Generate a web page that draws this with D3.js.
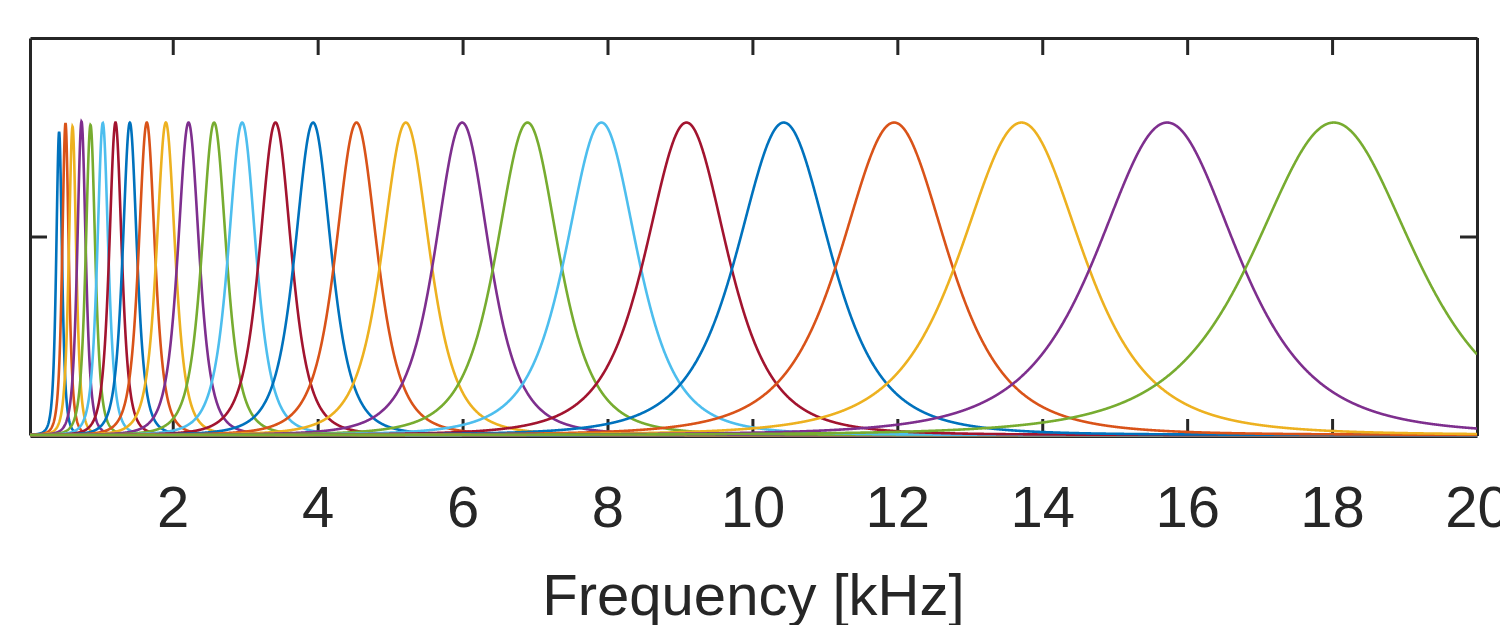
<!DOCTYPE html>
<html>
<head>
<meta charset="utf-8">
<script src="https://cdn.jsdelivr.net/npm/d3@7"></script>
<style>
  body { margin: 0; background: #fff; }
  text { font-family: "Liberation Sans", Arial, sans-serif; fill: #262626; }
</style>
</head>
<body>
<div id="chart"></div>
<script>
// centre frequency of each filter channel (kHz)
var centerKHz = [0.432, 0.520, 0.617, 0.741, 0.865, 1.035, 1.210, 1.408, 1.642, 1.905,
  2.218, 2.571, 2.958, 3.418, 3.937, 4.536, 5.217, 5.994, 6.896, 7.917,
  9.090, 10.433, 11.956, 13.714, 15.723, 18.024]

// bandwidth parameter of each channel (kHz)
var bandKHz = [0.073, 0.082, 0.093, 0.107, 0.120, 0.139, 0.158, 0.180, 0.206, 0.235,
  0.269, 0.308, 0.350, 0.401, 0.458, 0.524, 0.599, 0.684, 0.784, 0.896,
  1.025, 1.173, 1.340, 1.534, 1.755, 2.008]

// peak height of each channel
var peakGain = [0.764, 0.786, 0.777, 0.790, 0.781, 0.786, 0.787, 0.787, 0.787, 0.787,
  0.787, 0.787, 0.787, 0.787, 0.787, 0.787, 0.787, 0.787, 0.787, 0.787,
  0.787, 0.787, 0.787, 0.787, 0.787, 0.787]

var xTicks = [2, 4, 6, 8, 10, 12, 14, 16, 18, 20]
var yTicks = [0.5]
var lineColors = ['#0072BD', '#D95319', '#EDB120', '#7E2F8E', '#77AC30', '#4DBEEE', '#A2142F']

var width = 1500
var height = 625
var plot = {left: 30, right: 1477, top: 38, bottom: 436}

var svg = d3.select('#chart')
  .append('svg')
  .attr('width', width)
  .attr('height', height)

var x = d3.scaleLinear().domain([0.03, 20]).range([plot.left, plot.right])
var y = d3.scaleLinear().domain([0, 1]).range([plot.bottom - 1, plot.top])

svg.append('clipPath')
  .attr('id', 'plot-clip')
  .append('rect')
  .attr('x', plot.left)
  .attr('y', plot.top)
  .attr('width', plot.right - plot.left)
  .attr('height', plot.bottom - plot.top + 2)

// axes box with inward ticks
var axisColor = '#262626'

var bottomAxis = svg.append('g')
  .attr('transform', 'translate(0,' + plot.bottom + ')')
  .call(d3.axisBottom(x).tickValues(xTicks).tickSizeInner(-17).tickSizeOuter(0).tickPadding(50))
bottomAxis.selectAll('text')
  .attr('font-size', 58)
  .attr('fill', axisColor)

svg.append('g')
  .attr('transform', 'translate(0,' + plot.top + ')')
  .call(d3.axisTop(x).tickValues(xTicks).tickSizeInner(-17).tickSizeOuter(0).tickFormat(''))

svg.append('g')
  .attr('transform', 'translate(' + plot.left + ',0)')
  .call(d3.axisLeft(y).tickValues(yTicks).tickSizeInner(-17).tickSizeOuter(0).tickFormat(''))

svg.append('g')
  .attr('transform', 'translate(' + plot.right + ',0)')
  .call(d3.axisRight(y).tickValues(yTicks).tickSizeInner(-17).tickSizeOuter(0).tickFormat(''))

svg.selectAll('.domain, .tick line')
  .attr('stroke', axisColor)
  .attr('stroke-width', 3)

// sample each channel's response across the frequency axis
var freqs = d3.range(0, 20.0001, 0.004)
var channels = centerKHz.map(function (fc, i) {
  return freqs.map(function (f) {
    var u = (f - fc) / bandKHz[i]
    return { f: f, v: peakGain[i] * Math.pow(1 + u * u, -2) }
  })
})

var line = d3.line()
  .x(d => x(d.f))
  .y(d => y(d.v))

// curves sit on top of the axes, as in the original figure
svg.append('g')
  .attr('clip-path', 'url(#plot-clip)')
  .selectAll('.channel')
  .data(channels)
  .enter()
  .append('path')
  .attr('class', 'channel')
  .attr('d', line)
  .attr('fill', 'none')
  .attr('stroke', (d, i) => lineColors[i % lineColors.length])
  .attr('stroke-width', 2.6)

svg.append('text')
  .attr('x', (plot.left + plot.right) / 2)
  .attr('y', 615)
  .attr('text-anchor', 'middle')
  .attr('font-size', 58)
  .text('Frequency [kHz]')
</script>
</body>
</html>
